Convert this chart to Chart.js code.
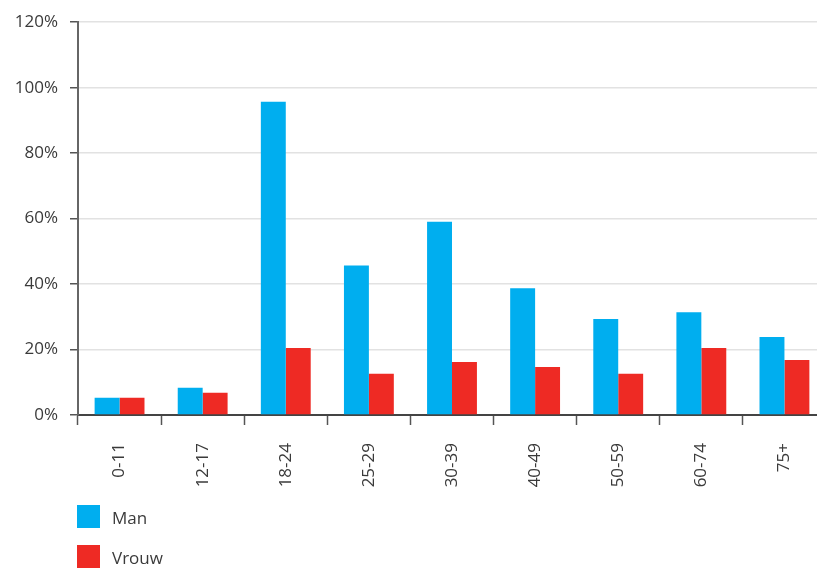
<!DOCTYPE html>
<html>
<head>
<meta charset="utf-8">
<script src="https://cdn.jsdelivr.net/npm/chart.js@4"></script>
<style>
html,body{margin:0;padding:0;background:#fff;overflow:hidden;width:817px;height:568px;}
#wrap{width:826px;height:568px;}
</style>
</head>
<body>
<div id="wrap"><canvas id="c" width="826" height="568" style="width:826px;height:568px;"></canvas></div>
<script>
const categories = ['0-11','12-17','18-24','25-29','30-39','40-49','50-59','60-74','75+'];
const manValues = [5.3, 8.3, 95.7, 45.7, 59.0, 38.7, 29.3, 31.4, 23.8];
const vrouwValues = [5.3, 6.8, 20.5, 12.6, 16.2, 14.7, 12.6, 20.5, 16.8];
const seriesLabels = ['Man','Vrouw'];
const seriesColors = ['#00aeef','#ee2a24'];
const yTicks = [0,20,40,60,80,100,120];

const FONT = '"Open Sans", sans-serif';
const TEXT = '#3a3a3a';

const legendPlugin = {
  id: 'vlegend',
  afterDraw(chart) {
    const ctx = chart.ctx;
    ctx.save();
    chart.data.datasets.forEach((ds, i) => {
      const y = 505 + i * 40;
      ctx.fillStyle = ds.backgroundColor;
      ctx.fillRect(77, y, 23, 23);
      ctx.fillStyle = TEXT;
      ctx.font = '17px ' + FONT;
      ctx.textBaseline = 'middle';
      ctx.textAlign = 'left';
      ctx.fillText(ds.label, 112, y + 14);
    });
    ctx.restore();
  }
};

new Chart(document.getElementById('c'), {
  type: 'bar',
  data: {
    labels: categories,
    datasets: [
      { label: seriesLabels[0], data: manValues, backgroundColor: seriesColors[0] },
      { label: seriesLabels[1], data: vrouwValues, backgroundColor: seriesColors[1] }
    ]
  },
  plugins: [legendPlugin],
  options: {
    responsive: false,
    animation: false,
    layout: { padding: { top: 19, bottom: 78, left: 0, right: 0 } },
    plugins: { legend: { display: false }, tooltip: { enabled: false } },
    datasets: { bar: { categoryPercentage: 0.6, barPercentage: 1.0 } },
    scales: {
      x: {
        afterFit(scale) { scale.height = 75; },
        grid: { drawOnChartArea: false, drawTicks: true, tickLength: 10, tickColor: '#555', tickWidth: 1.5, offset: true },
        border: { color: '#444', width: 2 },
        ticks: { minRotation: 90, maxRotation: 90, padding: 18, color: TEXT, font: { family: FONT, size: 17 } }
      },
      y: {
        min: 0, max: 120,
        afterFit(scale) { scale.width = 78; },
        afterBuildTicks(scale) { scale.ticks = yTicks.map(v => ({ value: v })); },
        grid: { color: '#e2e2e2', lineWidth: 1.5, tickLength: 8, tickColor: '#555', tickWidth: 1.5 },
        border: { color: '#666', width: 2 },
        ticks: { padding: 12, color: TEXT, font: { family: FONT, size: 17 }, callback: v => v + '%' }
      }
    }
  }
});
</script>
</body>
</html>
